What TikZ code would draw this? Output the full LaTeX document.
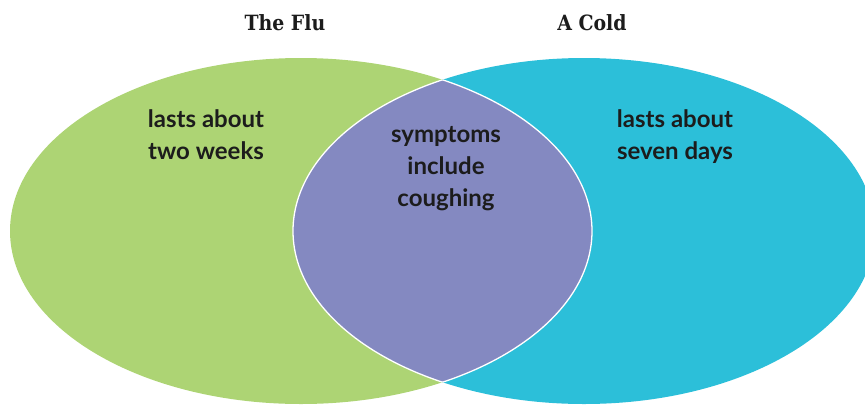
\documentclass[tikz,border=0pt]{standalone}
\usepackage{fontspec}
\setmainfont{Lato}
\newfontfamily\titlefont{DejaVu Serif Condensed}
\definecolor{flugreen}{HTML}{ADD474}
\definecolor{coldcyan}{HTML}{2CBFD9}
\definecolor{lensblue}{HTML}{8489C1}
\definecolor{inkdark}{HTML}{1C1C1C}
\tikzset{
  bodytext/.style={font=\bfseries\fontsize{24}{32}\selectfont, text=inkdark, align=center, inner sep=0pt},
  titletext/.style={font=\titlefont\bfseries\fontsize{21}{24}\selectfont, text=inkdark, inner sep=0pt},
  lensline/.style={draw=white, line width=1.3pt}
}
\begin{document}
\begin{tikzpicture}[x=1pt,y=-1pt]
\useasboundingbox (0,0) rectangle (865,405);
\clip (0,0) rectangle (865,405);
\def\flu{(301,231) ellipse [x radius=291pt, y radius=173pt]}
\def\cold{(584,231) ellipse [x radius=291pt, y radius=173pt]}
\fill[flugreen] \flu;
\fill[coldcyan] \cold;
\begin{scope}
  \clip \flu;
  \fill[lensblue] \cold;
  \draw[lensline] \cold;
\end{scope}
\begin{scope}
  \clip \cold;
  \draw[lensline] \flu;
\end{scope}
\node[titletext] (flu) at (285,23) {The Flu};
\node[titletext] (cold) at (592,23) {A Cold};
\node[bodytext] (flutext) at (206,135) {lasts about\\two weeks};
\node[bodytext] (both) at (446,169) {symptoms\\include\\coughing};
\node[bodytext] (coldtext) at (675,137) {lasts about\\seven days};
\end{tikzpicture}
\end{document}
